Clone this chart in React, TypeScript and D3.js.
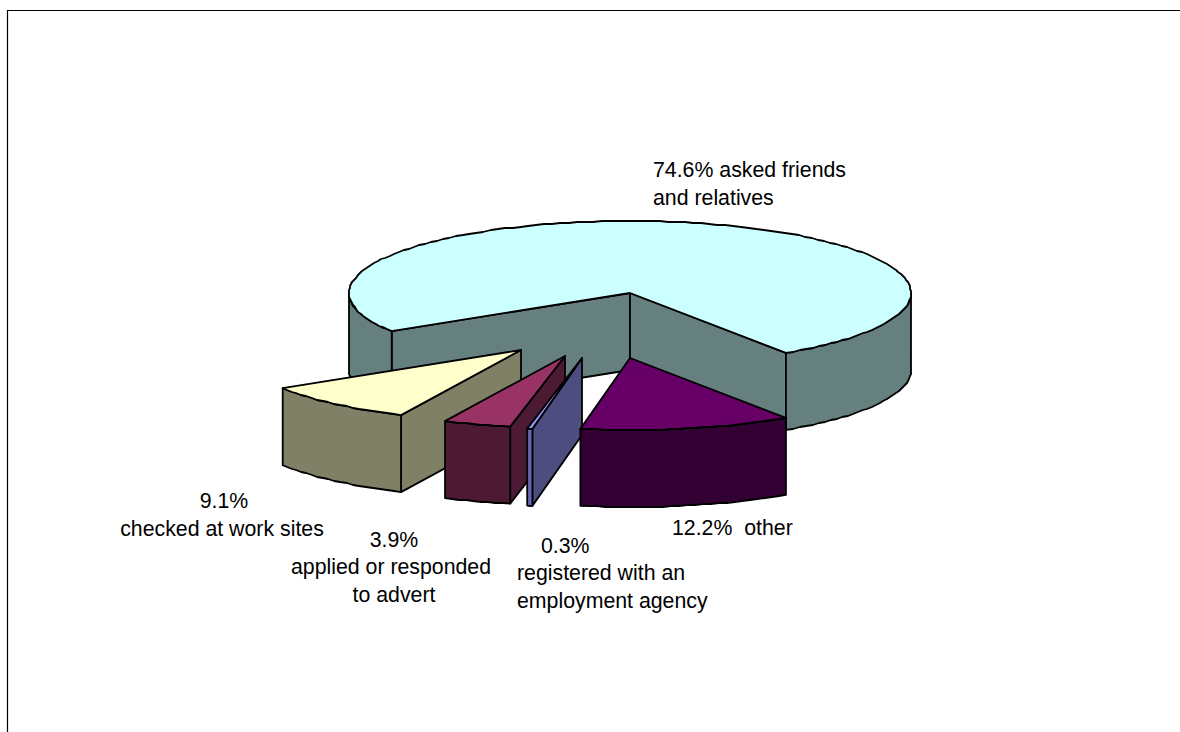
import React from "react";
import * as d3 from "d3";

// Share of respondents by job-search method, in drawing order around the pie.
const methods = ["asked friends and relatives", "other", "registered with an employment agency", "applied or responded to advert", "checked at work sites"];
const shares = [74.6, 12.2, 0.3, 3.9, 9.1];

const topColors = ["#ccffff", "#660066", "#9999ff", "#993366", "#ffffcc"];
const wallColors = ["#668080", "#330033", "#4d4d80", "#4d1a33", "#808066"];
const rimColors = ["#668080", "#330033", "#6666b3", "#4d1a33", "#808066"];

// Horizontal and vertical pull-out of each wedge from the pie.
const explodeX = [0, 0, -48, -65, -109];
const explodeY = [0, 65, 65, 63, 57];
// Back-to-front painting order, as indices into the lists above.
const paintOrder = [0, 4, 3, 2, 1];

const cx = 630, cy = 293, rx = 281, ry = 72, depth = 77;
const START = (238 * Math.PI) / 180;

const labelTexts = ["74.6% asked friends", "and relatives", "9.1%", "checked at work sites", "3.9%", "applied or responded", "to advert", "0.3%", "registered with an", "employment agency", "12.2%\u00a0 other"];
const labelX = [653, 653, 224, 222, 394, 391, 394, 541, 517, 517, 672];
const labelY = [177, 205, 508, 536, 547, 574, 602, 553, 580, 608, 535];
const labelAnchor = ["start", "start", "middle", "middle", "middle", "middle", "middle", "start", "start", "start", "start"];

const arcs = d3.pie<number>().sort(null).startAngle(START).endAngle(START + 2 * Math.PI)(shares);

type P = [number, number];
const lineGen = d3.line<P>();

function rimPoint(a: number, ox: number, oy: number): P {
  return [cx + ox + rx * Math.sin(a), cy + oy - ry * Math.cos(a)];
}

// Rim outline as a polyline snapped to whole pixels, which gives the slightly
// stepped edge of a low-resolution vector export.
function arcPoints(a0: number, a1: number, ox: number, oy: number): P[] {
  const n = Math.max(2, Math.ceil(Math.abs(a1 - a0) / 0.03));
  return d3.range(n + 1).map((i) => {
    const p = rimPoint(a0 + ((a1 - a0) * i) / n, ox, oy);
    if (i === 0 || i === n) return p;
    return [Math.round(p[0]), Math.round(p[1])] as P;
  });
}

const shift = (pts: P[], dy: number): P[] => pts.map(([x, y]) => [x, y + dy] as P);
const closed = (pts: P[]) => lineGen(pts) + "Z";

// The lower half of the rim (angles run clockwise from the top) faces the viewer.
const HALF = Math.PI / 2, FULL = Math.PI * 2;
function frontSpans(a0: number, a1: number): [number, number][] {
  const spans: [number, number][] = [];
  for (let k = 0; k < 3; k++) {
    const lo = Math.max(a0, HALF + k * FULL);
    const hi = Math.min(a1, HALF + Math.PI + k * FULL);
    if (hi > lo) spans.push([lo, hi]);
  }
  return spans;
}

function Wedge({ i }: { i: number }) {
  const { startAngle: a0, endAngle: a1 } = arcs[i];
  const ox = explodeX[i], oy = explodeY[i];
  const apex: P = [cx + ox, cy + oy];
  const s = rimPoint(a0, ox, oy), e = rimPoint(a1, ox, oy);
  const stroke = { stroke: "#000", strokeWidth: 1.8, strokeLinejoin: "round" as const };

  // A radial wall shows only when its outward side turns toward the viewer.
  const radial = (p: P, facing: boolean) =>
    facing ? <path d={closed([apex, p, [p[0], p[1] + depth], [apex[0], apex[1] + depth]])} fill={wallColors[i]} {...stroke} /> : null;

  return (
    <g>
      {radial(s, Math.sin(a0) < 0)}
      {radial(e, Math.sin(a1) > 0)}
      {frontSpans(a0, a1).map(([lo, hi], k) => {
        const pts = arcPoints(lo, hi, ox, oy);
        return <path key={k} d={closed([...pts, ...shift(pts, depth).reverse()])} fill={rimColors[i]} {...stroke} />;
      })}
      <path d={closed([apex, ...arcPoints(a0, a1, ox, oy)])} fill={topColors[i]} {...stroke} />
    </g>
  );
}

export default function App() {
  return (
    <svg width={1180} height={732} style={{ position: "absolute", left: 0, top: 0, display: "block", background: "#fff" }}>
      <path d="M7.5 732V10.5H1180" fill="none" stroke="#000" strokeWidth={1.2} />
      {paintOrder.map((i) => (
        <Wedge key={methods[i]} i={i} />
      ))}
      <g fontFamily="'Liberation Sans', Arial, sans-serif" fontSize={21.3} fill="#000">
        {labelTexts.map((t, k) => (
          <text key={t} x={labelX[k]} y={labelY[k]} textAnchor={labelAnchor[k]}>
            {t}
          </text>
        ))}
      </g>
    </svg>
  );
}
